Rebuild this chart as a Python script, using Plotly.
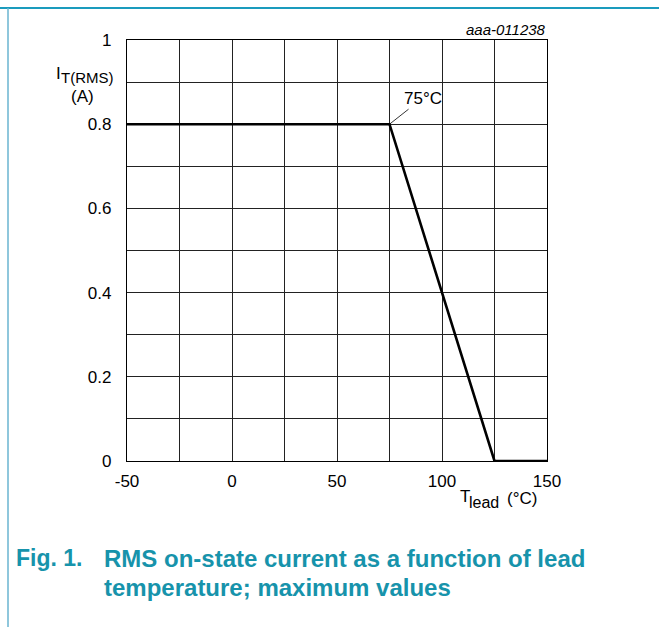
import plotly.graph_objects as go

# curve: maximum RMS on-state current vs lead temperature
t_lead = [-50, 75, 125, 150]
i_rms = [0.8, 0.8, 0.0, 0.0]

x_ticks = [-50, 0, 50, 100, 150]
x_labels = ["-50", "0", "50", "100", "150"]
y_ticks = [0, 0.2, 0.4, 0.6, 0.8, 1]
y_labels = ["0", "0.2", "0.4", "0.6", "0.8", "1"]

W, H = 659, 627
L, R, T, B = 127, 547, 40, 461
TEAL = "#1793ab"
FONT = "Liberation Sans, Arial, sans-serif"


def px(x, y):
    # pixel position -> paper coordinates
    return (x - L) / (R - L), (B - y) / (B - T)


def label(text, x, y, size, xanchor="left", color="black", family=FONT):
    xp, yp = px(x, y)
    return dict(x=xp, y=yp, xref="paper", yref="paper", text=text, showarrow=False,
                xanchor=xanchor, yanchor="middle",
                font=dict(family=family, size=size, color=color))


fig = go.Figure()
fig.add_trace(go.Scatter(x=t_lead, y=i_rms, mode="lines",
                         line=dict(color="black", width=2.6),
                         showlegend=False, cliponaxis=False))

axis_common = dict(showline=True, linecolor="black", linewidth=1.2, mirror=True,
                   showgrid=True, gridcolor="#222", gridwidth=1, zeroline=False,
                   ticks="", tickfont=dict(family=FONT, size=17, color="black"))

fig.update_xaxes(range=[-50, 150], tickvals=x_ticks, ticktext=x_labels,
                 minor=dict(dtick=25, showgrid=True, gridcolor="#222", gridwidth=1),
                 ticklabelstandoff=4, **axis_common)
fig.update_yaxes(range=[0, 1], tickvals=y_ticks, ticktext=y_labels,
                 minor=dict(dtick=0.1, showgrid=True, gridcolor="#222", gridwidth=1),
                 ticklabelstandoff=11, **axis_common)

ann = [
    label("<i>aaa-011238</i>", 548, 30, 15, xanchor="right"),
    # y title: I_T(RMS) (A)
    label("I", 54, 73, 17),
    label("T(RMS)", 59, 78, 15),
    label("(A)", 82, 96, 17, xanchor="center"),
    # x title: T_lead (°C)
    label("T", 458, 496, 17),
    label("lead", 467, 502, 16),
    label("(°C)", 505, 498, 17),
]
ann.append(dict(x=75, y=0.8, xref="x", yref="y", text="75°C", showarrow=True,
                arrowhead=0, arrowwidth=0.8, arrowcolor="black", ax=33, ay=-26,
                font=dict(family=FONT, size=17, color="black")))

ann.append(label("<b>Fig. 1.</b>", 14, 558, 23, color=TEAL))
ann.append(label("<b>RMS on-state current as a function of lead</b>", 102, 558, 24,
                 color=TEAL))
ann.append(label("<b>temperature; maximum values</b>", 102, 587, 24, color=TEAL))

# frame lines along top and left of the figure
xa, ya = px(0, 8)
xb, _ = px(W, 8)
fig.add_shape(type="line", xref="paper", yref="paper", x0=xa, x1=xb, y0=ya, y1=ya,
              line=dict(color="#1a9bbd", width=2))
xl, yt = px(8, 8)
_, yb = px(8, H)
fig.add_shape(type="line", xref="paper", yref="paper", x0=xl, x1=xl, y0=yt, y1=yb,
              line=dict(color="#6ab4d0", width=1.5))

fig.update_layout(width=W, height=H, margin=dict(l=L, r=W - R, t=T, b=H - B),
                  plot_bgcolor="white", paper_bgcolor="white", annotations=ann)

# the page body has a default 8px margin; drop it so pixels line up
fig.write_html("out.html", config={"displayModeBar": False},
               post_script="document.body.style.margin='0';")
